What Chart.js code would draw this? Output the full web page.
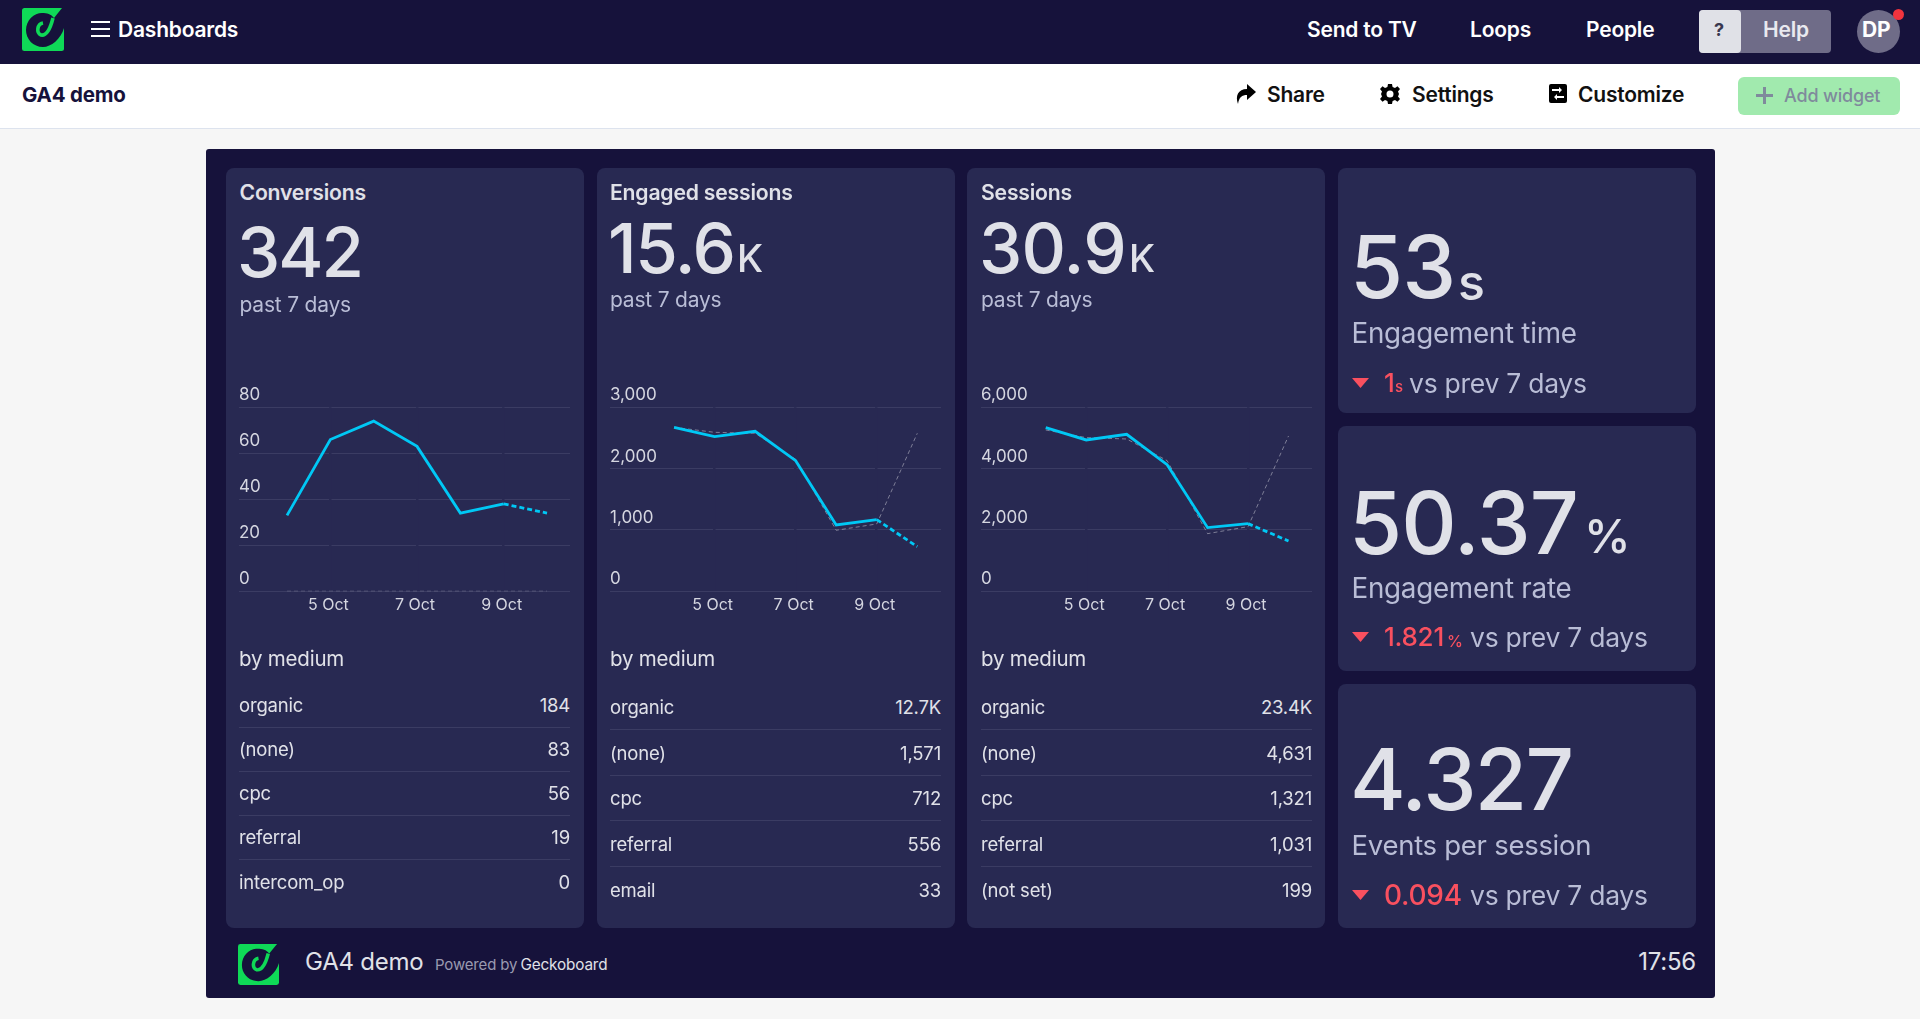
<!DOCTYPE html>
<html>
<head>
<meta charset="utf-8">
<title>GA4 demo</title>
<script src="https://cdn.jsdelivr.net/npm/chart.js@4"></script>
<style>
html, body { margin: 0; height: 100%; background: #f6f6f6; overflow: hidden; font-family: Inter, sans-serif; }
#page { position: relative; width: 1920px; height: 1019px; overflow: hidden; }
.box { position: absolute; }
.t { position: absolute; line-height: 0; white-space: nowrap; letter-spacing: -0.01em; }
canvas { position: absolute; }
</style>
</head>
<body>
<div id="page"></div>
<script>
// values
const days = [4, 5, 6, 7, 8, 9, 10];
const dayTicks = [5, 7, 9];
const conversions = [33, 66, 74, 63, 34, 38, 34];
const conversionsPrev = [0, 0, 0, 0, 0, 0, 0];
const engaged = [2674, 2522, 2609, 2130, 1082, 1168, 728];
const engagedPrev = [2674, 2592, 2576, 2152, 995, 1098, 2576];
const sessions = [5337, 4935, 5120, 4130, 2076, 2207, 1641];
const sessionsPrev = [5261, 5011, 4967, 4261, 1880, 2109, 5065];

const mediumConversions = ['organic', '(none)', 'cpc', 'referral', 'intercom_op'];
const valuesConversions = ['184', '83', '56', '19', '0'];
const mediumEngaged = ['organic', '(none)', 'cpc', 'referral', 'email'];
const valuesEngaged = ['12.7K', '1,571', '712', '556', '33'];
const mediumSessions = ['organic', '(none)', 'cpc', 'referral', '(not set)'];
const valuesSessions = ['23.4K', '4,631', '1,321', '1,031', '199'];

const page = document.getElementById('page');
const GREEN = '#0fd957', NAVY = '#16123b', CARD = '#282952', TEXT = '#e0e1e8', SOFT = '#b9bdd6', RED = '#f9505f';

function box(x, y, w, h, bg, radius) {
    const d = document.createElement('div');
    d.className = 'box';
    d.style.cssText = `left:${x}px;top:${y}px;width:${w}px;height:${h}px;background:${bg};border-radius:${radius || 0}px`;
    page.appendChild(d);
    return d;
}

// y is the vertical middle of the text
function text(str, x, y, size, weight, color, right) {
    const d = document.createElement('div');
    d.className = 't';
    d.textContent = str;
    d.style.cssText = `${right ? 'right:' + (1920 - x) : 'left:' + x}px;top:${y}px;font-size:${size}px;font-weight:${weight};color:${color}`;
    page.appendChild(d);
    return d;
}

function svg(x, y, w, h, vb, inner) {
    const d = document.createElement('div');
    d.className = 'box';
    d.style.cssText = `left:${x}px;top:${y}px;width:${w}px;height:${h}px`;
    d.innerHTML = `<svg width="${w}" height="${h}" viewBox="${vb}" preserveAspectRatio="none" style="display:block">${inner}</svg>`;
    page.appendChild(d);
}

function logo(x, y, w, h, bg) {
    svg(x, y, w, h, '0 0 42 43',
        `<rect width="42" height="43" rx="2.5" fill="${GREEN}"/>` +
        `<path d="M40 0H42V20C39 31 29 39 21 39C11 39 4 31 4 22C4 12 12 5 20 5C25 5 29 6 32 10Z" fill="${bg}"/>` +
        `<path d="M21 15C15 16 14 25 19 27C24 28 28 22 31 10" fill="none" stroke="${GREEN}" stroke-width="3.6"/>`);
}

function triangle(x, y) {
    svg(x, y, 17, 10, '0 0 17 10', `<path d="M0 0H17L8.5 10Z" fill="${RED}"/>`);
}

// top bars
box(0, 0, 1920, 64, NAVY);
box(0, 64, 1920, 64, '#fff');
box(0, 128, 1920, 1, '#dde3ee');
logo(21.5, 8, 42, 43, NAVY);
for (const y of [21, 28, 35]) box(91, y, 19, 2, '#fff');
text('Dashboards', 118, 29.5, 21, 600, '#fff');
text('Send to TV', 1307, 30, 21, 600, '#fff');
text('Loops', 1470, 30, 21, 600, '#fff');
text('People', 1586, 30, 21, 600, '#fff');
box(1699, 10, 132, 43, '#6f6c88', 4);
box(1699, 10, 42, 43, '#e0e1e7', 4);
text('?', 1714, 30, 18, 700, '#3a3850');
text('Help', 1763, 30, 21, 600, '#e9e9ef');
box(1857, 10, 43, 43, '#6f6c88', 22);
text('DP', 1862, 30, 21, 700, '#fff');
box(1893, 8.5, 11, 11, '#f2343e', 6);

text('GA4 demo', 22, 95, 20.5, 700, NAVY);
svg(1235, 84, 21, 20, '0 0 21 20', '<path d="M12 0L21 8L12 16V11C7 11 4 13 3 20C0 12 3 5 12 5Z" fill="#000"/>');
text('Share', 1267, 95, 21, 600, '#111');
svg(1380, 84, 20, 20, '0 0 20 20', '<path d="M8 0H12L12.6 3L15 4L17.5 2.3L20 5L18 7.6L19 10L18 12.4L20 15L17.5 17.7L15 16L12.6 17L12 20H8L7.4 17L5 16L2.5 17.7L0 15L2 12.4L1 10L2 7.6L0 5L2.5 2.3L5 4L7.4 3ZM10 6.5A3.5 3.5 0 1 0 10 13.5A3.5 3.5 0 1 0 10 6.5Z" fill="#000" fill-rule="evenodd"/>');
text('Settings', 1412, 95, 21, 600, '#111');
svg(1549, 84, 18, 19, '0 0 18 19', '<path d="M2 0H16Q18 0 18 2V17Q18 19 16 19H2Q0 19 0 17V2Q0 0 2 0ZM3 5V7H10V9L13 6L10 3V5ZM15 12H8V10L5 13L8 16V14H15Z" fill="#000" fill-rule="evenodd"/>');
text('Customize', 1578, 95, 21, 600, '#111');
box(1738, 77, 162, 38, '#a1eaae', 6);
box(1756, 94, 17, 3, '#7f8a9c');
box(1763, 87, 3, 17, '#7f8a9c');
text('Add widget', 1784, 96, 18, 500, '#7f8a9c');

// dashboard frame
box(206, 149, 1509, 849, NAVY, 3);
box(225.5, 168, 358, 760, CARD, 8);
box(596.5, 168, 358, 760, CARD, 8);
box(967, 168, 358, 760, CARD, 8);
box(1337.5, 168, 358, 245, CARD, 8);
box(1337.5, 426, 358, 245, CARD, 8);
box(1337.5, 684, 358, 244, CARD, 8);

function lineChart(left, top, values, prev, yMax, yStep, xMin, xMax) {
    const canvas = document.createElement('canvas');
    canvas.style.cssText = `left:${left}px;top:${top}px;width:331px;height:260px`;
    canvas.width = 331;
    canvas.height = 260;
    page.appendChild(canvas);
    const toPoints = arr => arr.map((v, i) => ({ x: days[i], y: v }));
    return new Chart(canvas, {
        type: 'line',
        data: {
            datasets: [{
                data: toPoints(values),
                borderColor: '#00c8f5',
                borderWidth: 2.8,
                pointRadius: 0,
                tension: 0,
                segment: { borderDash: ctx => ctx.p1DataIndex === days.length - 1 ? [5, 3] : undefined }
            }, {
                data: toPoints(prev),
                borderColor: 'rgba(255,255,255,0.4)',
                borderWidth: 1,
                borderDash: [4, 3],
                pointRadius: 0,
                tension: 0
            }]
        },
        options: {
            responsive: false,
            animation: false,
            devicePixelRatio: 1,
            layout: { padding: { top: 37.3 } },
            plugins: { legend: { display: false }, tooltip: { enabled: false } },
            scales: {
                x: {
                    type: 'linear',
                    min: xMin,
                    max: xMax,
                    afterBuildTicks: axis => { axis.ticks = dayTicks.map(v => ({ value: v })); },
                    afterFit: axis => { axis.height = 38.7; },
                    border: { display: false },
                    grid: { color: CARD, lineWidth: 2.5, drawTicks: false, z: -1 },
                    ticks: {
                        color: '#d5d6e0',
                        font: { family: 'Inter', size: 16 },
                        padding: 4,
                        labelOffset: -2,
                        maxRotation: 0,
                        autoSkip: false,
                        callback: v => v + ' Oct'
                    }
                },
                y: {
                    min: 0,
                    max: yMax,
                    border: { display: false },
                    grid: { color: '#3b3c63', lineWidth: 1, drawTicks: false, z: -2 },
                    ticks: {
                        color: '#d5d6e0',
                        font: { family: 'Inter', size: 17 },
                        stepSize: yStep,
                        mirror: true,
                        padding: 0,
                        labelOffset: -12,
                        callback: v => v.toLocaleString('en-US')
                    }
                }
            }
        }
    });
}

lineChart(239, 370, conversions, conversionsPrev, 80, 20, 2.892, 10.53);
lineChart(610, 370, engaged, engagedPrev, 3000, 1000, 2.42, 10.585);
lineChart(981, 370, sessions, sessionsPrev, 6000, 2000, 2.4, 10.58);

function rows(x, textY, lineY, labels, values) {
    labels.forEach((label, i) => {
        text(label, x, textY[i], 18.5, 400, TEXT);
        text(values[i], x + 331, textY[i], 18.5, 400, TEXT, true);
        if (i < 4) box(x, lineY[i], 331, 1, '#3b3c63');
    });
}

// left column widget
text('Conversions', 239.5, 192, 21.2, 600, TEXT);
text('342', 237, 252, 69, 500, TEXT).style.letterSpacing = '-0.03em';
text('past 7 days', 239.5, 305, 21, 400, SOFT);
text('by medium', 239, 659, 20.5, 400, TEXT);
rows(239, [704.5, 748.5, 792.5, 836.5, 881.5], [727, 771, 815, 859], mediumConversions, valuesConversions);

text('Engaged sessions', 610, 192, 21.2, 600, TEXT);
text('15.6', 608, 248, 69, 500, TEXT).style.letterSpacing = '-0.02em';
text('K', 737, 258, 38, 500, TEXT);
text('past 7 days', 610, 300, 21, 400, SOFT);
text('by medium', 610, 659, 20.5, 400, TEXT);
rows(610, [706.5, 752.5, 797.5, 843.5, 889.5], [729, 775, 820, 866], mediumEngaged, valuesEngaged);

text('Sessions', 981, 192, 21.2, 600, TEXT);
text('30.9', 979, 248, 69, 500, TEXT);
text('K', 1129, 258, 38, 500, TEXT);
text('past 7 days', 981, 300, 21, 400, SOFT);
text('by medium', 981, 659, 20.5, 400, TEXT);
rows(981, [706.5, 752.5, 797.5, 843.5, 889.5], [729, 775, 820, 866], mediumSessions, valuesSessions);

// right column widgets
text('53', 1350, 267, 86, 500, TEXT);
text('s', 1458, 282, 50, 500, TEXT);
text('Engagement time', 1351.5, 333, 27.8, 400, SOFT);
triangle(1352, 378);
text('1', 1384, 382.5, 26, 500, RED);
text('s', 1395, 386.5, 15, 500, RED);
text('vs prev 7 days', 1409, 382.5, 26.5, 400, SOFT);

text('50.37', 1349, 522.5, 86, 500, TEXT);
text('%', 1584, 536, 47, 500, TEXT);
text('Engagement rate', 1351.5, 588, 27.8, 400, SOFT);
triangle(1352, 632);
text('1.821', 1384, 636.5, 26, 500, RED);
text('%', 1447, 640.5, 16, 500, RED);
text('vs prev 7 days', 1470, 636.5, 26.5, 400, SOFT);

text('4.327', 1350, 779.5, 85, 500, TEXT).style.letterSpacing = '-0.02em';
text('Events per session', 1351.5, 845, 27.5, 400, SOFT);
triangle(1352, 890);
text('0.094', 1384, 894.5, 28, 500, RED);
text('vs prev 7 days', 1470, 894.5, 26.5, 400, SOFT);

// footer
logo(238, 944, 41, 41, NAVY);
text('GA4 demo', 305, 962, 24, 400, TEXT);
text('Powered by', 435, 965, 15, 400, '#9a9ab0');
text('Geckoboard', 520.5, 965, 15.3, 400, TEXT);
text('17:56', 1696, 962, 24, 400, TEXT, true);
</script>
</body>
</html>
